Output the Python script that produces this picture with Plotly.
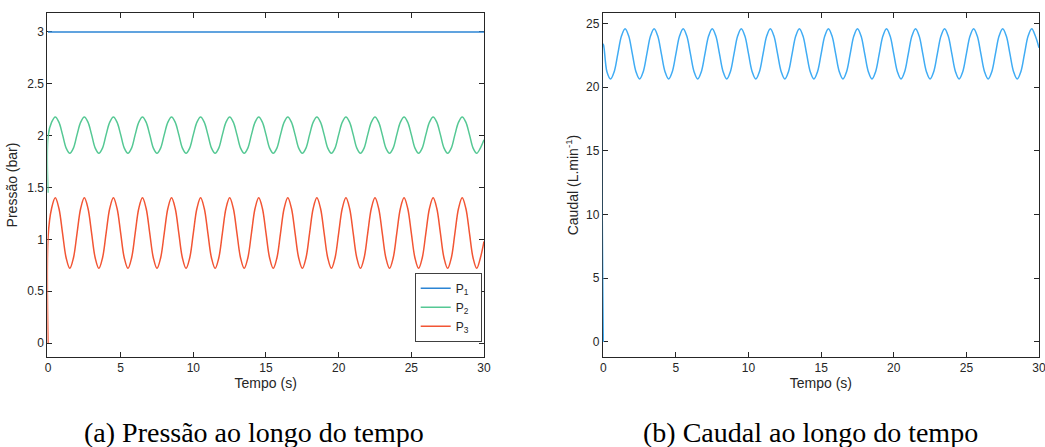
import plotly.graph_objects as go

# ---- data ----
time_s = [0, 0.01,
          0.25, 0.5, 0.75, 1.0, 1.25, 1.5, 1.75, 2.0,
          2.25, 2.5, 2.75, 3.0, 3.25, 3.5, 3.75, 4.0,
          4.25, 4.5, 4.75, 5.0, 5.25, 5.5, 5.75, 6.0,
          6.25, 6.5, 6.75, 7.0, 7.25, 7.5, 7.75, 8.0,
          8.25, 8.5, 8.75, 9.0, 9.25, 9.5, 9.75, 10.0,
          10.25, 10.5, 10.75, 11.0, 11.25, 11.5, 11.75, 12.0,
          12.25, 12.5, 12.75, 13.0, 13.25, 13.5, 13.75, 14.0,
          14.25, 14.5, 14.75, 15.0, 15.25, 15.5, 15.75, 16.0,
          16.25, 16.5, 16.75, 17.0, 17.25, 17.5, 17.75, 18.0,
          18.25, 18.5, 18.75, 19.0, 19.25, 19.5, 19.75, 20.0,
          20.25, 20.5, 20.75, 21.0, 21.25, 21.5, 21.75, 22.0,
          22.25, 22.5, 22.75, 23.0, 23.25, 23.5, 23.75, 24.0,
          24.25, 24.5, 24.75, 25.0, 25.25, 25.5, 25.75, 26.0,
          26.25, 26.5, 26.75, 27.0, 27.25, 27.5, 27.75, 28.0,
          28.25, 28.5, 28.75, 29.0, 29.25, 29.5, 29.75, 30.0]

p1_time = [0, 30]
p1_bar = [3.0, 3.0]

p2_bar = [1.45, 2.00,
          2.13, 2.18, 2.13, 2.01, 1.88, 1.83, 1.88, 2.01,
          2.13, 2.18, 2.13, 2.01, 1.88, 1.83, 1.88, 2.01,
          2.13, 2.18, 2.13, 2.01, 1.88, 1.83, 1.88, 2.01,
          2.13, 2.18, 2.13, 2.01, 1.88, 1.83, 1.88, 2.01,
          2.13, 2.18, 2.13, 2.01, 1.88, 1.83, 1.88, 2.01,
          2.13, 2.18, 2.13, 2.01, 1.88, 1.83, 1.88, 2.01,
          2.13, 2.18, 2.13, 2.01, 1.88, 1.83, 1.88, 2.01,
          2.13, 2.18, 2.13, 2.01, 1.88, 1.83, 1.88, 2.01,
          2.13, 2.18, 2.13, 2.01, 1.88, 1.83, 1.88, 2.01,
          2.13, 2.18, 2.13, 2.01, 1.88, 1.83, 1.88, 2.01,
          2.13, 2.18, 2.13, 2.01, 1.88, 1.83, 1.88, 2.01,
          2.13, 2.18, 2.13, 2.01, 1.88, 1.83, 1.88, 2.01,
          2.13, 2.18, 2.13, 2.01, 1.88, 1.83, 1.88, 2.01,
          2.13, 2.18, 2.13, 2.01, 1.88, 1.83, 1.88, 2.01,
          2.13, 2.18, 2.13, 2.01, 1.88, 1.83, 1.88, 1.96]

p3_bar = [0.00, 1.03,
          1.30, 1.40, 1.30, 1.06, 0.82, 0.72, 0.82, 1.06,
          1.30, 1.40, 1.30, 1.06, 0.82, 0.72, 0.82, 1.06,
          1.30, 1.40, 1.30, 1.06, 0.82, 0.72, 0.82, 1.06,
          1.30, 1.40, 1.30, 1.06, 0.82, 0.72, 0.82, 1.06,
          1.30, 1.40, 1.30, 1.06, 0.82, 0.72, 0.82, 1.06,
          1.30, 1.40, 1.30, 1.06, 0.82, 0.72, 0.82, 1.06,
          1.30, 1.40, 1.30, 1.06, 0.82, 0.72, 0.82, 1.06,
          1.30, 1.40, 1.30, 1.06, 0.82, 0.72, 0.82, 1.06,
          1.30, 1.40, 1.30, 1.06, 0.82, 0.72, 0.82, 1.06,
          1.30, 1.40, 1.30, 1.06, 0.82, 0.72, 0.82, 1.06,
          1.30, 1.40, 1.30, 1.06, 0.82, 0.72, 0.82, 1.06,
          1.30, 1.40, 1.30, 1.06, 0.82, 0.72, 0.82, 1.06,
          1.30, 1.40, 1.30, 1.06, 0.82, 0.72, 0.82, 1.06,
          1.30, 1.40, 1.30, 1.06, 0.82, 0.72, 0.82, 1.06,
          1.30, 1.40, 1.30, 1.06, 0.82, 0.72, 0.82, 0.98]

q_lmin = [0.0, 23.4,
          21.22, 20.65, 21.22, 22.62, 24.02, 24.60, 24.02, 22.62,
          21.22, 20.65, 21.22, 22.62, 24.02, 24.60, 24.02, 22.62,
          21.22, 20.65, 21.22, 22.62, 24.02, 24.60, 24.02, 22.62,
          21.22, 20.65, 21.22, 22.62, 24.02, 24.60, 24.02, 22.62,
          21.22, 20.65, 21.22, 22.62, 24.02, 24.60, 24.02, 22.62,
          21.22, 20.65, 21.22, 22.62, 24.02, 24.60, 24.02, 22.62,
          21.22, 20.65, 21.22, 22.62, 24.02, 24.60, 24.02, 22.62,
          21.22, 20.65, 21.22, 22.62, 24.02, 24.60, 24.02, 22.62,
          21.22, 20.65, 21.22, 22.62, 24.02, 24.60, 24.02, 22.62,
          21.22, 20.65, 21.22, 22.62, 24.02, 24.60, 24.02, 22.62,
          21.22, 20.65, 21.22, 22.62, 24.02, 24.60, 24.02, 22.62,
          21.22, 20.65, 21.22, 22.62, 24.02, 24.60, 24.02, 22.62,
          21.22, 20.65, 21.22, 22.62, 24.02, 24.60, 24.02, 22.62,
          21.22, 20.65, 21.22, 22.62, 24.02, 24.60, 24.02, 22.62,
          21.22, 20.65, 21.22, 22.62, 24.02, 24.60, 24.02, 23.10]

series_names = ["P<sub>1</sub>&nbsp;&nbsp;", "P<sub>2</sub>&nbsp;&nbsp;", "P<sub>3</sub>&nbsp;&nbsp;"]
x_ticks = [0, 5, 10, 15, 20, 25, 30]
p_ticks = [0, 0.5, 1, 1.5, 2, 2.5, 3]
q_ticks = [0, 5, 10, 15, 20, 25]
captions = ["(a) Pressão ao longo do tempo", "(b) Caudal ao longo do tempo"]

# ---- styles ----
C1, C2, C3, CQ = "#2B84D4", "#55C894", "#F25534", "#40ACF4"
AX = "#262626"
W, H = 1045, 447
sans = "Liberation Sans, Arial, sans-serif"
X0 = -0.04          # tiny left pad so the t=0 jumps stay visible over the axis line
PXS = 436 / 30.0    # px per second

fig = go.Figure()
fig.add_trace(go.Scatter(x=p1_time, y=p1_bar, mode="lines", name=series_names[0],
                         line=dict(color=C1, width=1.5), xaxis="x", yaxis="y"))
fig.add_trace(go.Scatter(x=time_s, y=p2_bar, mode="lines", name=series_names[1],
                         line=dict(color=C2, width=1.5, shape="spline"), xaxis="x", yaxis="y"))
fig.add_trace(go.Scatter(x=time_s, y=p3_bar, mode="lines", name=series_names[2],
                         line=dict(color=C3, width=1.5, shape="spline"), xaxis="x", yaxis="y"))
fig.add_trace(go.Scatter(x=time_s, y=q_lmin, mode="lines", showlegend=False,
                         line=dict(color=CQ, width=1.5, shape="spline"), xaxis="x2", yaxis="y2"))

def ax_style(**kw):
    d = dict(showline=True, linecolor=AX, linewidth=1, mirror="allticks",
             ticks="inside", ticklen=5, tickcolor=AX, tickwidth=1,
             showgrid=False, zeroline=False, automargin=False, layer="below traces",
             ticklabeloverflow="allow",
             tickfont=dict(family=sans, size=12, color=AX))
    d.update(kw)
    return d

ttl = dict(family=sans, size=14, color=AX)
ydom = [(H - 357) / H, (H - 13) / H]
pad = -X0 * PXS
fig.update_layout(
    width=W, height=H, margin=dict(l=0, r=0, t=0, b=0),
    paper_bgcolor="white", plot_bgcolor="white",
    xaxis=ax_style(domain=[(48 - pad) / W, 484 / W], range=[X0, 30], tickvals=x_ticks,
                   title=dict(text="Tempo (s)", standoff=0, font=ttl), anchor="y"),
    yaxis=ax_style(domain=ydom, range=[-0.135, 3.183], tickvals=p_ticks,
                   title=dict(text="Pressão (bar)", standoff=6, font=ttl), anchor="x"),
    xaxis2=ax_style(domain=[(603.3 - pad) / W, 1039 / W], range=[X0, 30], tickvals=x_ticks,
                    title=dict(text="Tempo (s)", standoff=0, font=ttl), anchor="y2"),
    yaxis2=ax_style(domain=ydom, range=[-1.18, 25.83], tickvals=q_ticks,
                    title=dict(text="Caudal (L.min<sup>-1</sup>)", standoff=4, font=ttl),
                    anchor="x2"),
    legend=dict(x=481.7 / W, xanchor="right", y=(H - 341.7) / H, yanchor="bottom",
                bgcolor="white", bordercolor="#404040", borderwidth=1,
                font=dict(family=sans, size=12, color=AX),
                tracegroupgap=0),
    showlegend=True,
)

for cx, txt in [(253.5, captions[0]), (810, captions[1])]:
    fig.add_annotation(x=cx / W, y=(H - 432) / H, xref="paper", yref="paper",
                       text=txt, showarrow=False, xanchor="center", yanchor="middle",
                       font=dict(family="Liberation Serif, serif", size=28, color="black"))

fig.write_html("out.html")
